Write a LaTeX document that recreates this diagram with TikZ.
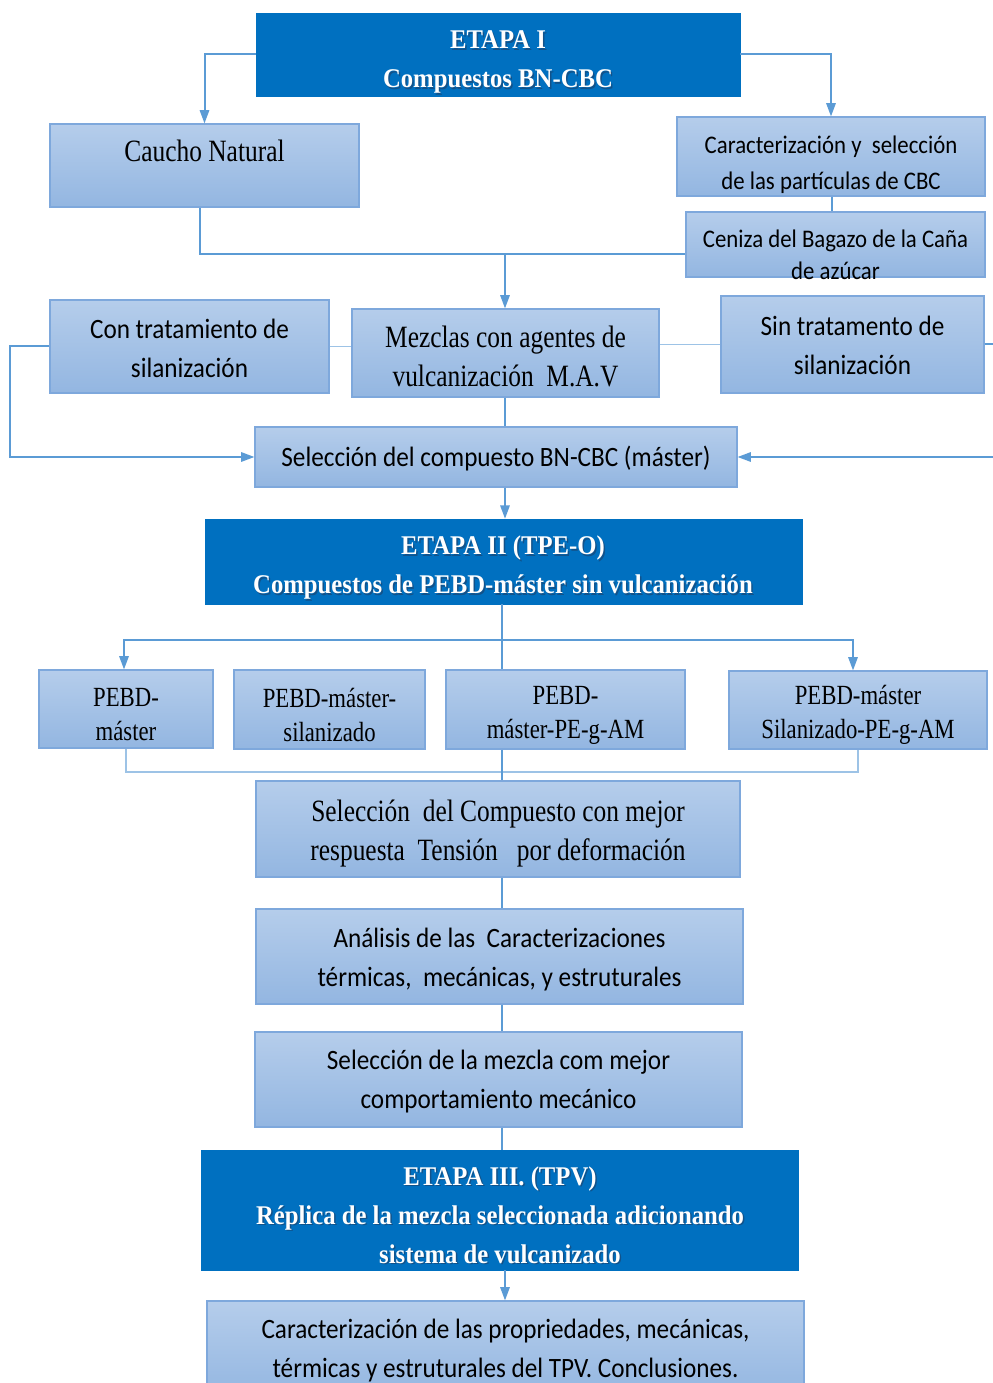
\documentclass[tikz,border=0pt]{standalone}
\usepackage{fontspec}
\setmainfont{Liberation Serif}[FakeStretch=0.82]
\newfontfamily\sansc{Carlito}[FakeStretch=0.9]
\newfontfamily\hdrf{Liberation Serif}[FakeStretch=0.915]
\usetikzlibrary{arrows.meta,calc}
\definecolor{hdrblue}{HTML}{0070C0}
\definecolor{linec}{HTML}{5B9BD5}
\definecolor{linelight}{HTML}{9DC3E6}
\definecolor{boxtop}{HTML}{B5CDEB}
\definecolor{boxbot}{HTML}{93B6E1}
\definecolor{boxline}{HTML}{7EA8DC}
\definecolor{shadowc}{HTML}{1F3F66}
\newcommand\fserif{\fontsize{23.25}{29.25}\selectfont}
\newcommand\fpebd{\fontsize{20.8}{25.5}\selectfont}
\newcommand\fsans{\sansc\fontsize{21}{29.25}\selectfont}
\newcommand\fsanss{\sansc\fontsize{19}{27}\selectfont}
\newcommand\fsansx{\sansc\fontsize{19}{24}\selectfont}
\newcommand\fhdr{\hdrf\bfseries\fontsize{20.25}{29.25}\selectfont}
% #1 style, #2 font, #3 name, #4-#7 x1 y1 x2 y2, #8 text dy, #9 text
\newcommand\mybox[9]{%
  \node[#1, minimum width={(#6-#4)*0.75pt}, minimum height={(#7-#5)*0.75pt}]
    (#3) at ({(#4+#6)/2},{(#5+#7)/2}) {};
  \node[lbl, font=#2] (#3t) at ($(#3.center)+(0,#8)$) {#9};}
\tikzset{
  box/.style={draw=boxline, line width=0.8pt, top color=boxtop, bottom color=boxbot, inner sep=0pt},
  hdr/.style={fill=hdrblue, draw=hdrblue, inner sep=0pt},
  hdrtxt/.style={text=white, font=\fhdr, align=center, inner sep=0pt},
  hdrshadow/.style={text=shadowc, font=\fhdr, align=center, inner sep=0pt, opacity=0.6},
  conn/.style={draw=linec, line width=1.5pt},
  arr/.style={conn, -{Triangle[length=10pt,width=7pt]}},
  thinc/.style={draw=linelight, line width=1pt},
  lbl/.style={inner sep=0pt, align=center, text=black}
}
\newcommand\hdrtext[3]{%
  \node[hdrshadow] (#1s) at ($(#2)+(1.5,1.5)$) {#3};
  \node[hdrtxt] (#1) at (#2) {#3};}
\begin{document}
\begin{tikzpicture}[x=0.75pt,y=-0.75pt]
\useasboundingbox[fill=white] (0,0) rectangle (992,1383);
% Etapa I
\node[hdr, minimum width={484*0.75pt}, minimum height={83*0.75pt}] (e1) at (498,54.5) {};
\hdrtext{e1t}{498,62}{ETAPA I\\Compuestos BN-CBC}
\mybox{box}{\fserif}{caucho}{50}{124}{359}{207}{-14.5}{Caucho Natural}
\mybox{box}{\fsanss}{carac}{677}{117}{985}{196}{8.5}{Caracterizaci\'on y\ \ selecci\'on\\de las part\'iculas de CBC}
\mybox{box}{\fsansx}{ceniza}{686}{212}{985}{277}{10}{Ceniza del Bagazo de la Ca\~na\\de az\'ucar}
\mybox{box}{\fsans}{con}{50}{300}{329}{393}{2}{Con tratamiento de\\silanizaci\'on}
\mybox{box}{\fserif}{mezc}{352}{309}{659}{397}{3}{Mezclas con agentes de\\vulcanizaci\'on\ \ M.A.V}
\mybox{box}{\fsans}{sin}{721}{296}{984}{393}{0.5}{Sin tratamento de\\silanizaci\'on}
\mybox{box}{\fsans}{sel}{255}{427}{737}{487}{2}{Selecci\'on del compuesto BN-CBC (m\'aster)}
% Etapa II
\node[hdr, minimum width={597*0.75pt}, minimum height={85*0.75pt}] (e2) at (503.5,561.5) {};
\hdrtext{e2t}{503,568}{ETAPA II (TPE-O)\\Compuestos de PEBD-m\'aster sin vulcanizaci\'on}
\mybox{box}{\fpebd}{p1}{39}{670}{213}{748}{6}{PEBD-\\m\'aster}
\mybox{box}{\fpebd}{p2}{234}{670}{425}{749}{5}{PEBD-m\'aster-\\silanizado}
\mybox{box}{\fpebd}{p3}{446}{670}{685}{749}{6}{PEBD-\\m\'aster-PE-g-AM}
\mybox{box}{\fpebd}{p4}{729}{671}{987}{749}{5}{PEBD-m\'aster\\Silanizado-PE-g-AM}
\mybox{box}{\fserif}{sc}{256}{781}{740}{877}{4.5}{Selecci\'on\ \ del Compuesto con mejor\\respuesta\ \ Tensi\'on\ \ \ por deformaci\'on}
\mybox{box}{\fsans}{an}{256}{909}{743}{1004}{3.5}{An\'alisis de las\ \ Caracterizaciones\\t\'ermicas,\ \ mec\'anicas, y estruturales}
\mybox{box}{\fsans}{sm}{255}{1032}{742}{1127}{2}{Selecci\'on de la mezcla com mejor\\comportamiento mec\'anico}
% Etapa III
\node[hdr, minimum width={597*0.75pt}, minimum height={120*0.75pt}] (e3) at (499.5,1210) {};
\hdrtext{e3t}{500,1215}{ETAPA III. (TPV)\\R\'eplica de la mezcla seleccionada adicionando\\sistema de vulcanizado}
\mybox{box}{\fsans}{fin}{207}{1301}{804}{1398}{1}{Caracterizaci\'on de las propriedades, mec\'anicas,\\t\'ermicas y estruturales del TPV. Conclusiones.}
% connectors
\coordinate (j1) at (505,254);
\coordinate (j2) at (502,640);
\coordinate (j3) at (502,772);
\draw[arr] (e1.west) -| (caucho.north);
\draw[arr] (e1.east) -| (carac.north);
\draw[conn] (carac.south -| 832,0) -- (ceniza.north -| 832,0);
\draw[conn] (caucho.south -| 200,0) |- (j1);
\draw[conn] (ceniza.west |- j1) -- (j1);
\draw[arr] (j1) -- (mezc.north -| j1);
\draw[thinc] (con.east) -- (con.east -| mezc.west);
\draw[thinc] (sin.west) -- (sin.west -| mezc.east);
\draw[arr] (con.west) -- ++(-39,0) |- (sel.west);
\draw[arr] (sin.east) -- ++(24,0) |- (sel.east);
\draw[conn] (mezc.south -| j1) -- (sel.north -| j1);
\draw[arr] (sel.south -| j1) -- (e2.north -| j1);
\draw[conn] (e2.south -| j2) -- (p3.north -| j2);
\draw[arr] (j2) -| (p1.north -| 124,0);
\draw[arr] (j2) -| (p4.north -| 853,0);
\draw[thinc] (p1.south) |- (j3) -| (p4.south);
\draw[conn] (p3.south -| j3) -- (sc.north -| j3);
\draw[conn] (sc.south -| j3) -- (an.north -| j3);
\draw[conn] (an.south -| j3) -- (sm.north -| j3);
\draw[conn] (sm.south -| j3) -- (e3.north -| j3);
\draw[arr] (e3.south -| j1) -- (fin.north -| j1);
\end{tikzpicture}
\end{document}
